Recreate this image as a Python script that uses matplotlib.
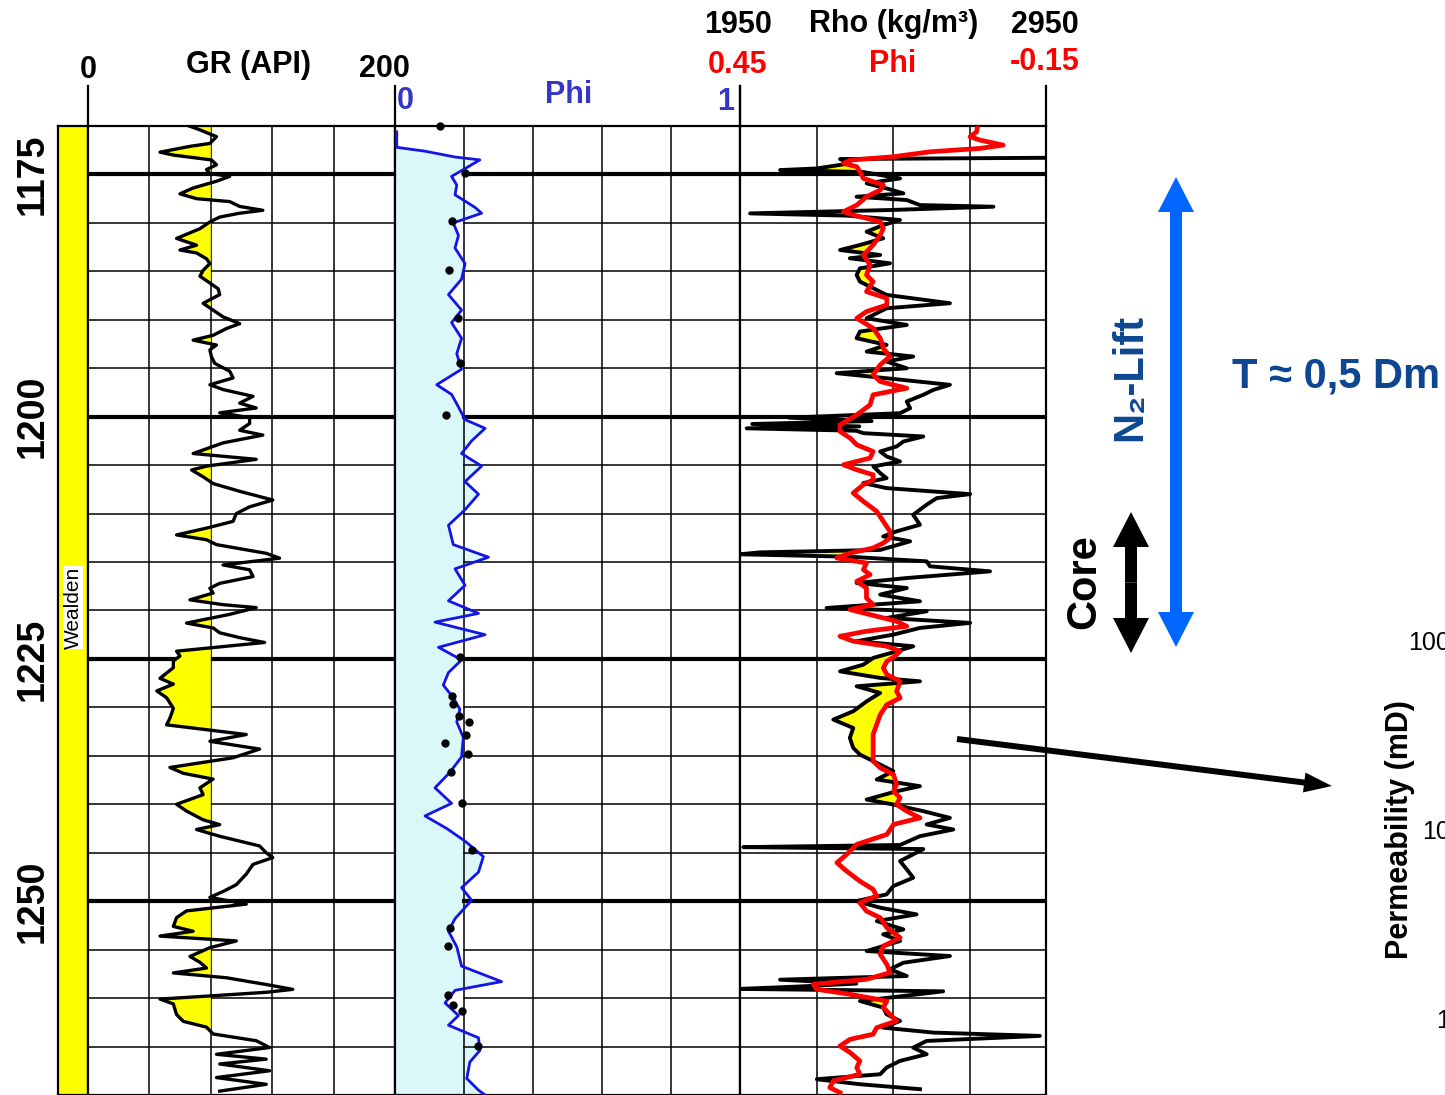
import numpy as np
import matplotlib.pyplot as plt
from matplotlib.patches import FancyArrow

plt.rcParams['font.family'] = ['Liberation Sans', 'DejaVu Sans']

depth_ticks = [1175, 1200, 1225, 1250]

gr_depth = [1168.7, 1169.4, 1169.9, 1170.4, 1171.1, 1171.8, 1172.1, 1172.7, 1173.0, 1173.5,
            1174.0, 1174.5, 1174.9, 1175.2, 1175.7, 1176.4, 1177.0, 1177.5, 1177.8, 1178.3,
            1178.7, 1179.0, 1179.4, 1179.9, 1180.6, 1181.6, 1182.3, 1182.8, 1183.1, 1183.7,
            1184.2, 1184.9, 1185.5, 1186.2, 1186.8, 1187.4, 1188.3, 1189.0, 1189.7, 1190.4,
            1190.9, 1191.6, 1192.1, 1192.6, 1193.1, 1193.8, 1194.5, 1195.3, 1196.0, 1196.7,
            1197.2, 1197.9, 1198.6, 1199.1, 1199.6, 1200.1, 1200.7, 1201.4, 1201.9, 1202.7,
            1203.8, 1204.4, 1205.1, 1205.5, 1206.2, 1206.9, 1207.7, 1208.6, 1209.3, 1210.0,
            1210.8, 1211.5, 1212.2, 1212.7, 1213.2, 1214.1, 1214.6, 1215.3, 1215.8, 1216.5,
            1217.2, 1217.7, 1218.2, 1218.9, 1219.4,
            1219.7, 1220.4, 1221.3, 1221.8, 1222.3, 1222.8, 1223.3, 1223.9, 1224.2, 1224.7,
            1225.2, 1225.9, 1227.0, 1227.6, 1228.3, 1229.0, 1230.1, 1231.1, 1231.8, 1232.3,
            1232.8, 1233.5, 1234.3, 1235.2, 1236.2, 1236.8, 1237.4, 1238.3, 1239.0, 1240.0,
            1240.7, 1241.6, 1242.1, 1242.6, 1243.3, 1243.8, 1244.3, 1245.0, 1245.5, 1246.2,
            1247.2, 1248.3, 1249.0, 1249.6, 1250.3, 1251.0, 1251.7, 1252.6, 1253.1, 1253.6,
            1254.1, 1254.8, 1255.7, 1256.3, 1256.9, 1257.4, 1257.9, 1258.6, 1259.1, 1259.4,
            1259.8, 1260.1, 1260.6, 1261.7, 1262.4, 1263.0, 1263.7, 1264.4, 1265.1, 1265.8,
            1266.3, 1266.8, 1267.5, 1268.2, 1268.9, 1269.6]
gr_api = [75.0, 96.6, 64.2, 72.9, 83.7, 79.4, 66.4, 46.9, 55.6, 80.4,
          83.7, 77.2, 79.4, 92.3, 83.7, 68.5, 59.9, 70.7, 92.3, 98.8,
          113.9, 98.8, 85.8, 79.4, 72.9, 57.7, 70.7, 59.9, 70.7, 77.2,
          79.4, 75.0, 72.9, 79.4, 84.8, 85.8, 75.0, 81.5, 88.0, 98.8,
          90.2, 81.5, 68.5, 83.7, 79.4, 80.4, 82.6, 92.3, 94.5, 79.4,
          88.0, 107.5, 98.8, 109.6, 85.8, 105.3, 105.3, 98.8, 113.9, 88.0,
          68.5, 109.6, 77.2, 67.5, 75.0, 81.5, 98.8, 120.4, 105.3, 96.6,
          94.5, 77.2, 57.7, 77.2, 83.7, 116.1, 124.8, 88.0, 105.3, 107.5,
          85.8, 79.4, 81.5, 66.4, 88.0,
          109.6, 92.3, 64.2, 81.5, 85.8, 98.8, 115.0, 77.2, 57.7, 59.9,
          55.6, 55.6, 46.9, 55.6, 44.8, 51.2, 55.6, 53.4, 51.2, 77.2,
          103.1, 79.4, 111.8, 94.5, 53.4, 62.1, 81.5, 72.9, 75.0, 57.7,
          64.2, 75.0, 85.8, 70.7, 85.8, 98.8, 111.8, 116.1, 120.4, 107.5,
          103.1, 96.6, 88.0, 79.4, 103.1, 64.2, 57.7, 55.6, 68.5, 46.9,
          96.6, 79.4, 66.4, 72.9, 77.2, 55.6, 90.2, 116.1, 133.4, 116.1,
          77.2, 46.9, 55.6, 57.7, 62.1, 77.2, 81.5, 109.6, 118.3, 83.7,
          116.1, 85.8, 118.3, 83.7, 116.1, 85.8]

phi_depth = [1170.6, 1172.2, 1172.6, 1173.2, 1173.5, 1174.5, 1175.2, 1176.1, 1177.1, 1178.4,
             1179.0, 1180.0, 1181.3, 1182.6, 1184.2, 1185.8, 1187.4, 1189.0, 1190.3, 1191.9,
             1193.5, 1195.1, 1196.7, 1197.7, 1199.0, 1200.3, 1201.2, 1202.5, 1203.8, 1205.1,
             1206.7, 1208.0, 1209.6, 1211.2, 1213.2, 1214.5, 1215.7, 1217.4, 1219.0, 1220.3,
             1221.2, 1222.5, 1223.8, 1225.1, 1226.4, 1227.7, 1229.0, 1230.2, 1231.5, 1233.1,
             1235.1, 1236.7, 1238.3, 1239.9, 1241.2, 1242.5, 1243.8, 1245.4, 1247.0, 1248.6,
             1249.9, 1251.8, 1253.1, 1254.7, 1256.7, 1258.3, 1259.2, 1260.5, 1261.8, 1262.8,
             1264.1, 1265.4, 1266.6, 1268.3, 1269.5, 1270.5]
phi_log = [0.005, 0.005, 0.087, 0.174, 0.246, 0.198, 0.164, 0.179, 0.174, 0.232,
           0.251, 0.169, 0.184, 0.174, 0.203, 0.193, 0.155, 0.193, 0.164, 0.193,
           0.179, 0.193, 0.121, 0.164, 0.184, 0.203, 0.261, 0.222, 0.193, 0.251,
           0.203, 0.242, 0.203, 0.155, 0.169, 0.271, 0.174, 0.203, 0.155, 0.242,
           0.116, 0.261, 0.126, 0.193, 0.155, 0.140, 0.169, 0.188, 0.179, 0.198,
           0.193, 0.159, 0.116, 0.164, 0.087, 0.150, 0.203, 0.256, 0.242, 0.193,
           0.222, 0.174, 0.155, 0.179, 0.193, 0.309, 0.174, 0.145, 0.184, 0.155,
           0.242, 0.246, 0.217, 0.208, 0.242, 0.280]

core_depth = [1170.0, 1174.8, 1179.8, 1184.9, 1189.8, 1194.5, 1199.8, 1224.8, 1228.8, 1229.6,
              1230.9, 1231.5, 1232.8, 1233.7, 1234.8, 1236.7, 1239.9, 1244.7, 1252.8, 1254.6,
              1259.7, 1260.7, 1261.3, 1264.9]
core_phi = [0.129, 0.203, 0.164, 0.157, 0.184, 0.188, 0.147, 0.188, 0.166, 0.169,
            0.186, 0.214, 0.205, 0.145, 0.211, 0.162, 0.193, 0.224, 0.159, 0.155,
            0.153, 0.169, 0.195, 0.240]

rho_depth = [1173.28, 1173.41, 1173.86, 1174.38, 1174.55, 1174.75, 1175.41, 1175.92, 1176.44, 1176.95,
             1177.30, 1177.64, 1178.16, 1178.33, 1178.67, 1179.02, 1179.25, 1179.70, 1180.22, 1180.91,
             1181.59, 1182.28, 1182.80, 1183.31, 1183.65, 1184.17, 1184.69, 1185.37, 1186.06, 1186.75,
             1187.43, 1188.29, 1188.81, 1189.84, 1190.53, 1191.21, 1191.90, 1192.59, 1193.28, 1193.79,
             1194.31, 1195.00, 1195.51, 1196.03, 1196.71, 1197.23, 1197.74, 1198.43, 1199.12, 1199.64,
             1200.10, 1200.45, 1200.75, 1201.00, 1201.20, 1201.45,
             1201.70, 1202.04, 1202.56, 1203.07, 1203.59, 1204.10, 1204.62, 1205.13, 1205.82, 1206.34,
             1206.85, 1207.37, 1207.99, 1208.40, 1209.08, 1210.12, 1211.15, 1211.83, 1212.35, 1212.86,
             1213.75, 1214.00, 1214.20, 1214.45, 1214.93, 1215.44, 1215.96, 1216.65, 1217.16, 1217.68,
             1218.36, 1219.05, 1219.74, 1220.08, 1220.77, 1221.28, 1221.80, 1222.49, 1223.17, 1223.69,
             1224.21, 1224.89,
             1225.59, 1226.28, 1226.96, 1227.31, 1227.82, 1228.51, 1229.37, 1230.40, 1231.26, 1232.12,
             1233.15, 1234.18, 1234.87, 1235.55, 1236.58, 1237.44, 1238.13, 1238.65, 1239.51, 1240.02,
             1240.71, 1241.40, 1242.08, 1242.60, 1243.29, 1244.20, 1244.42, 1244.62, 1245.86, 1246.72,
             1247.58, 1248.44, 1249.30, 1249.99, 1250.67, 1251.36, 1252.05, 1252.91, 1253.42, 1254.11,
             1255.14, 1255.66, 1256.35, 1257.03, 1257.72, 1258.10, 1258.50, 1258.80, 1259.05, 1259.30,
             1260.30, 1260.98, 1261.67, 1262.36, 1263.05, 1263.56, 1263.90, 1264.42, 1265.11, 1265.79,
             1266.48, 1267.17, 1267.86, 1268.37, 1268.89, 1269.40]
rho_log = [2952, 2277, 2309, 2201, 2081, 2353, 2473, 2364, 2429, 2484,
           2331, 2495, 2538, 2778, 2440, 1983, 2300, 2473, 2418, 2364,
           2418, 2342, 2277, 2408, 2309, 2440, 2342, 2331, 2342, 2386,
           2429, 2636, 2429, 2364, 2495, 2342, 2331, 2429, 2364, 2516,
           2429, 2495, 2266, 2429, 2636, 2582, 2549, 2495, 2506, 2473,
           2110, 2380, 1990, 2340, 1972, 2330,
           2353, 2549, 2484, 2462, 2408, 2429, 2473, 2386, 2408, 2429,
           2353, 2429, 2702, 2593, 2560, 2516, 2538, 2462, 2418, 2506,
           2408, 2015, 1950, 2309, 2560, 2571, 2767, 2495, 2331, 2495,
           2408, 2538, 2233, 2560, 2429, 2702, 2538, 2451, 2331, 2516,
           2462, 2386,
           2353, 2277, 2408, 2538, 2331, 2408, 2364, 2320, 2255, 2320,
           2309, 2320, 2342, 2386, 2451, 2397, 2538, 2462, 2364, 2451,
           2549, 2636, 2560, 2647, 2538, 2473, 1961, 2549, 2473, 2495,
           2516, 2451, 2429, 2331, 2408, 2527, 2397, 2484, 2418, 2473,
           2364, 2636, 2484, 2440, 2495, 2081, 2330, 2146, 1950, 2614,
           2342, 2418, 2429, 2473, 2418, 2582, 2930, 2560, 2516, 2560,
           2473, 2429, 2408, 2201, 2342, 2538]

phid_depth = [1169.05, 1169.57, 1170.60, 1171.11, 1171.46, 1171.97, 1172.31, 1172.66, 1173.17, 1173.52,
              1173.86, 1174.20, 1174.72, 1175.41, 1176.09, 1176.61, 1177.30, 1178.16, 1178.84, 1179.19,
              1179.87, 1180.56, 1181.25, 1182.28, 1183.31, 1184.34, 1185.37, 1186.06, 1187.09, 1187.78,
              1188.47, 1189.15, 1189.84, 1190.87, 1191.90, 1192.93, 1193.79, 1194.65, 1195.68, 1196.37,
              1197.06, 1197.74, 1198.78, 1199.81,
              1200.84, 1201.52, 1202.21, 1202.90, 1203.59, 1204.27, 1204.96, 1205.48, 1205.99, 1206.51,
              1207.02, 1207.88, 1208.74, 1209.77, 1210.80, 1211.83, 1212.52, 1213.04, 1213.55, 1214.07,
              1214.58, 1215.10, 1215.79, 1216.30, 1216.99, 1217.68, 1218.71, 1219.39, 1219.91, 1220.42,
              1221.11, 1221.63, 1222.14, 1222.66, 1223.17, 1223.69, 1224.21, 1224.82,
              1225.24, 1225.93, 1226.62, 1227.31, 1228.34, 1229.02, 1229.71, 1230.74, 1231.77, 1232.80,
              1234.18, 1235.55, 1236.24, 1236.93, 1237.96, 1238.65, 1239.33, 1240.02, 1240.71, 1241.40,
              1242.08, 1243.11, 1244.14, 1245.18, 1246.03, 1246.89, 1247.93, 1248.78, 1249.47, 1250.16,
              1251.02, 1251.71, 1252.74, 1253.77, 1254.63, 1255.49, 1256.52, 1257.38, 1258.06, 1258.58,
              1259.09, 1259.61, 1260.30, 1260.98, 1261.67, 1262.36, 1263.05, 1263.73, 1264.25, 1264.94,
              1265.62, 1266.48, 1267.17, 1267.86, 1268.54, 1269.23, 1269.75]
phid_log = [-0.034, -0.017, -0.014, -0.001, -0.021, -0.066, -0.021, 0.077, 0.149, 0.234,
            0.247, 0.221, 0.215, 0.208, 0.169, 0.175, 0.202, 0.221, 0.247, 0.228,
            0.175, 0.169, 0.175, 0.189, 0.208, 0.195, 0.202, 0.189, 0.202, 0.162,
            0.162, 0.202, 0.221, 0.189, 0.175, 0.169, 0.156, 0.175, 0.189, 0.175,
            0.123, 0.189, 0.195, 0.221,
            0.254, 0.254, 0.234, 0.221, 0.189, 0.195, 0.247, 0.221, 0.189, 0.189,
            0.208, 0.228, 0.208, 0.182, 0.169, 0.156, 0.156, 0.169, 0.189, 0.234,
            0.260, 0.202, 0.208, 0.195, 0.221, 0.202, 0.202, 0.189, 0.234, 0.195,
            0.143, 0.123, 0.202, 0.254, 0.228, 0.162, 0.136, 0.149,
            0.162, 0.169, 0.162, 0.136, 0.143, 0.136, 0.162, 0.175, 0.182, 0.189,
            0.189, 0.189, 0.175, 0.149, 0.143, 0.149, 0.136, 0.143, 0.123, 0.097,
            0.149, 0.162, 0.221, 0.241, 0.260, 0.241, 0.215, 0.189, 0.182, 0.215,
            0.202, 0.175, 0.162, 0.136, 0.169, 0.175, 0.162, 0.156, 0.202, 0.306,
            0.300, 0.234, 0.162, 0.169, 0.156, 0.143, 0.182, 0.189, 0.234, 0.254,
            0.234, 0.215, 0.221, 0.215, 0.267, 0.274, 0.254]

perm_ticks = [1, 10, 100]

# ---------------- layout (pixels of the 1445x1095 picture) ----------------
W, H = 1445, 1095
TOP, BOT = 126, 1095
D0, D1 = 1170, 1270
YELLOW = '#FFFF00'
NAVY = '#0D4791'
BLUE_TXT = '#3535C8'

fig = plt.figure(figsize=(W / 100, H / 100), dpi=100)


def rect(x0, x1, y0=TOP, y1=BOT):
    return [x0 / W, 1 - y1 / H, (x1 - x0) / W, (y1 - y0) / H]


def track(x0, x1, xlim):
    ax = fig.add_axes(rect(x0, x1))
    ax.set_xlim(*xlim)
    ax.set_ylim(D1, D0)
    ax.set_xticks([])
    ax.set_yticks([])
    for s in ax.spines.values():
        s.set_linewidth(1.6)
    return ax


def depth_lines(ax, xmin=0.0, z=1):
    for d in range(1175, D1, 5):
        ax.axhline(d, xmin=xmin, color='k', lw=3.0 if d % 25 == 0 else 1.1, zorder=z)


def head_tick(ax, x):
    ax.axvline(x, ymin=1, ymax=1 + 40 / (BOT - TOP), color='k', lw=1.6, clip_on=False)


# formation strip + depth labels
ax0 = track(58, 88, (0, 1))
ax0.set_facecolor(YELLOW)
ax0.set_yticks(depth_ticks)
ax0.set_yticklabels([str(d) for d in depth_ticks], rotation=90, va='center',
                    fontsize=27, fontweight='bold')
ax0.tick_params(axis='y', length=0, pad=5)
ax0.text(0.5, 1219.7, 'Wealden', transform=ax0.get_yaxis_transform(), rotation=90,
         ha='center', va='center', fontsize=15,
         bbox=dict(facecolor='white', edgecolor='none', pad=0.3))

# track 1 : gamma ray
ax1 = track(88, 395, (0, 200))
depth_lines(ax1)
for x in [40, 80, 120, 160]:
    ax1.axvline(x, color='k', lw=1.1, zorder=1)
gr = np.array(gr_api)
ax1.fill_betweenx(gr_depth, gr, 80, where=gr < 80, interpolate=True,
                  color=YELLOW, lw=0, zorder=2)
ax1.plot(gr_api, gr_depth, color='k', lw=2.4, zorder=3)
head_tick(ax1, 0)
head_tick(ax1, 200)

# track 2 : porosity log + core porosity
ax2 = track(395, 740, (0, 1))
ax2.fill_betweenx(phi_depth, 0, phi_log, color='#DAF7FA', lw=0, zorder=1)
depth_lines(ax2, xmin=0.2, z=2)
for x in [0.2, 0.4, 0.6, 0.8]:
    ax2.axvline(x, color='k', lw=1.1, zorder=2)
ax2.plot(phi_log, phi_depth, color='#1414E6', lw=2.0, zorder=3)
ax2.plot(core_phi, core_depth, 'o', color='k', ms=5, zorder=4, clip_on=False)
head_tick(ax2, 1)

# track 3 : density (black) and density porosity (red)
ax3 = track(740, 1046, (1950, 2950))
depth_lines(ax3)
for x in [2200, 2450, 2700]:
    ax3.axvline(x, color='k', lw=1.1, zorder=1)
dgrid = np.linspace(D0, D1, 4001)
rho_i = np.interp(dgrid, rho_depth, rho_log)
phi_i = np.interp(dgrid, phid_depth, phid_log)
rho_eq = 1950 + (0.45 - phi_i) / 0.6 * 1000
ax3.fill_betweenx(dgrid, rho_i, rho_eq, where=rho_i < rho_eq, interpolate=True,
                  color=YELLOW, lw=0, zorder=2)
ax3.plot(rho_log, rho_depth, color='k', lw=2.8, zorder=3)
ax3b = ax3.twiny()
ax3b.set_xlim(0.45, -0.15)
ax3b.set_xticks([])
ax3b.plot(phid_log, phid_depth, color='#FF0000', lw=3.4, zorder=4)
for s in ax3b.spines.values():
    s.set_visible(False)
head_tick(ax3, 1950)
head_tick(ax3, 2950)

# permeability axis, mostly outside the picture
axp = fig.add_axes(rect(1460, 1520, 641, 1018))
axp.set_yscale('log')
axp.set_ylim(1, 100)
axp.set_yticks(perm_ticks)
axp.set_yticklabels([str(v) for v in perm_ticks], fontsize=18)
axp.minorticks_off()
axp.tick_params(axis='y', length=0, pad=7)
axp.set_xticks([])
for s in axp.spines.values():
    s.set_visible(False)
axp.patch.set_visible(False)
axp.set_ylabel('Permeability (mD)', fontsize=22, fontweight='bold')
axp.yaxis.set_label_coords(-45 / 60, 0.5)

# overlay in picture pixels for headers and annotations
ov = fig.add_axes([0, 0, 1, 1], zorder=10)
ov.set_xlim(0, W)
ov.set_ylim(H, 0)
ov.axis('off')

hdr = dict(ha='center', va='baseline', fontsize=22, fontweight='bold')
ov.text(88, 78, '0', **hdr)
ov.text(249, 73, 'GR (API)', **hdr)
ov.text(384, 77, '200', **hdr)
ov.text(405, 109, '0', color=BLUE_TXT, **hdr)
ov.text(569, 103, 'Phi', color=BLUE_TXT, **hdr)
ov.text(726, 110, '1', color=BLUE_TXT, **hdr)
ov.text(738, 33, '1950', **hdr)
ov.text(894, 32, 'Rho (kg/m\u00b3)', **hdr)
ov.text(1045, 33, '2950', **hdr)
ov.text(738, 73, '0.45', color='#FF0000', **hdr)
ov.text(893, 72, 'Phi', color='#FF0000', **hdr)
ov.text(1045, 70, '-0.15', color='#FF0000', **hdr)

big = dict(fontsize=30, fontweight='bold')
ov.text(1130, 377, 'N\u2082-Lift', rotation=90, ha='center', va='center', color=NAVY, **big)
ov.text(1084, 582, 'Core', rotation=90, ha='center', va='center', color='k', **big)
ov.text(1232, 387, 'T \u2248 0,5 Dm', ha='left', va='baseline', color=NAVY, **big)


def double_arrow(x, y0, y1, color):
    ym = (y0 + y1) / 2
    for tip in (y0, y1):
        ov.add_patch(FancyArrow(x, ym, 0, tip - ym, width=12, head_width=36,
                                head_length=35, length_includes_head=True,
                                color=color, lw=0))


double_arrow(1176, 177, 647, '#0066FF')
double_arrow(1131, 512, 653, 'k')
ov.add_patch(FancyArrow(957, 739, 375, 47, width=6, head_width=20, head_length=28,
                        length_includes_head=True, color='k', lw=0))

fig.savefig('out.png', dpi=100)
